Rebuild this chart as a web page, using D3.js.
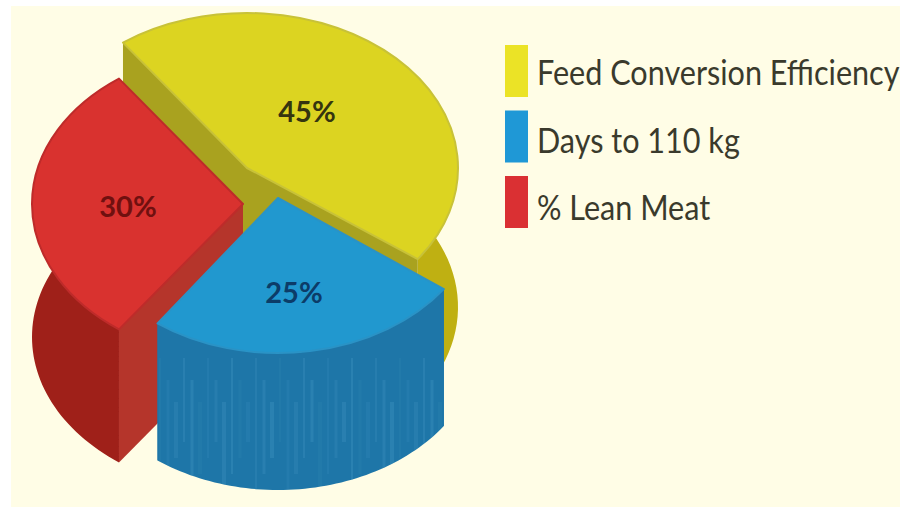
<!DOCTYPE html>
<html>
<head>
<meta charset="utf-8">
<script src="https://cdn.jsdelivr.net/npm/d3@7"></script>
<style>
  html, body { margin: 0; padding: 0; background: #fff; }
  svg { display: block; }
  text { font-family: Lato, "Open Sans", sans-serif; }
</style>
</head>
<body>
<svg id="chart" width="900" height="507"></svg>
<script>
// Selection weighting for the three breeding traits
const categories = ["Feed Conversion Efficiency", "Days to 110 kg", "% Lean Meat"];
const shares = [45, 25, 30];

// Colours per category: top face, outer wall, cut face, rim, label, legend
const topColors = ["#DCD421", "#2198CF", "#D9322F"];
const wallColors = ["#BFB012", "#1E76A8", "#9F2019"];
const cutColors = ["#A9A21F", "#1E76A8", "#B5352B"];
const rimColors = ["#C8C238", "#2A93C6", "#BE2B2A"];
const labelColors = ["#35350F", "#0C3C68", "#70100F"];
const legendColors = ["#EBE326", "#1F98D6", "#DA3033"];

// Slice geometry, one entry per category
const radiiX = [211, 205, 211];
const radiusY = 155;
const depths = [139, 137, 133];
const firstAngle = -36 * Math.PI / 180;
const sliceCentres = [[247, 168], [278, 198], [243, 204]];
const labelPositions = [[307, 110], [294, 291], [128, 205]];

const svg = d3.select("#chart");
svg.append("rect").attr("width", 900).attr("height", 507).attr("fill", "#fff");
svg.append("rect").attr("x", 11).attr("y", 6).attr("width", 889).attr("height", 501).attr("fill", "#FFFDE6");

const pie = d3.pie().sort(null).startAngle(firstAngle).endAngle(firstAngle + 2 * Math.PI);
const slices = pie(shares);

const line = d3.line();
const defs = svg.append("defs");

// Painter's order: the back slice first, the front slice last
const order = [0, 2, 1];

order.forEach(i => {
  const s = slices[i];
  const rx = radiiX[i], depth = depths[i];
  const [cx, cy] = sliceCentres[i];
  const rim = a => [rx * Math.sin(a), -radiusY * Math.cos(a)];
  const g = svg.append("g").attr("transform", `translate(${cx},${cy})`);

  // A cut face looks towards the viewer when its normal points down the page
  const faces = [
    { angle: s.startAngle, normal: s.startAngle - Math.PI / 2 },
    { angle: s.endAngle, normal: s.endAngle + Math.PI / 2 }
  ];
  const drawFace = f => {
    const p = rim(f.angle);
    g.append("path")
      .attr("d", line([[0, 0], p, [p[0], p[1] + depth], [0, depth]]) + "Z")
      .attr("fill", cutColors[i]);
  };
  faces.filter(f => Math.cos(f.normal) >= 0).forEach(drawFace);

  // Curved outer wall, swept downwards from the rim
  const steps = d3.range(0, 61).map(k => s.startAngle + (s.endAngle - s.startAngle) * k / 60);
  const upper = steps.map(rim);
  const lower = upper.map(p => [p[0], p[1] + depth]).reverse();
  const wallPath = line(upper.concat(lower)) + "Z";
  g.append("path").attr("d", wallPath).attr("fill", wallColors[i]);

  // Brushed streaks on the blue wall
  if (i === 1) {
    defs.append("clipPath").attr("id", "wall-clip").append("path").attr("d", wallPath);
    g.append("g").attr("clip-path", "url(#wall-clip)")
      .selectAll("line")
      .data(d3.range(-118, 168, 8))
      .join("line")
      .attr("x1", d => d).attr("x2", d => d)
      .attr("y1", (d, k) => 160 + (k % 3) * 22)
      .attr("y2", (d, k) => 292 - (k % 4) * 16)
      .attr("stroke", "#4A9CC6")
      .attr("stroke-width", (d, k) => 2 + (k % 3))
      .attr("stroke-opacity", (d, k) => 0.1 + (k % 5) * 0.05);
  }

  faces.filter(f => Math.cos(f.normal) < 0).forEach(drawFace);

  // Top face
  g.append("g").attr("transform", `scale(1,${radiusY / rx})`)
    .append("path")
    .attr("d", d3.arc().innerRadius(0).outerRadius(rx)(s))
    .attr("fill", topColors[i])
    .attr("stroke", rimColors[i])
    .attr("stroke-width", 2)
    .attr("stroke-linejoin", "round")
    .attr("vector-effect", "non-scaling-stroke");
});

// Percentage labels
svg.append("g").selectAll("text")
  .data(shares)
  .join("text")
  .attr("x", (d, i) => labelPositions[i][0])
  .attr("y", (d, i) => labelPositions[i][1])
  .attr("text-anchor", "middle")
  .attr("dominant-baseline", "central")
  .attr("font-size", 29)
  .attr("font-weight", 700)
  .attr("fill", (d, i) => labelColors[i])
  .text(d => `${d}%`);

// Legend
const swatchY = d3.scalePoint().domain(categories).range([71, 202]);
const baselineY = d3.scalePoint().domain(categories).range([85, 220]);
const legend = svg.append("g");
legend.selectAll("rect")
  .data(categories)
  .join("rect")
  .attr("x", 505).attr("y", d => swatchY(d) - 26)
  .attr("width", 23).attr("height", 52)
  .attr("fill", (d, i) => legendColors[i]);
legend.selectAll("text")
  .data(categories)
  .join("text")
  .attr("transform", d => `translate(537,${baselineY(d)}) scale(0.9,1)`)
  .attr("font-size", 34)
  .attr("fill", "#3A3A2C")
  .text(d => d);
</script>
</body>
</html>
